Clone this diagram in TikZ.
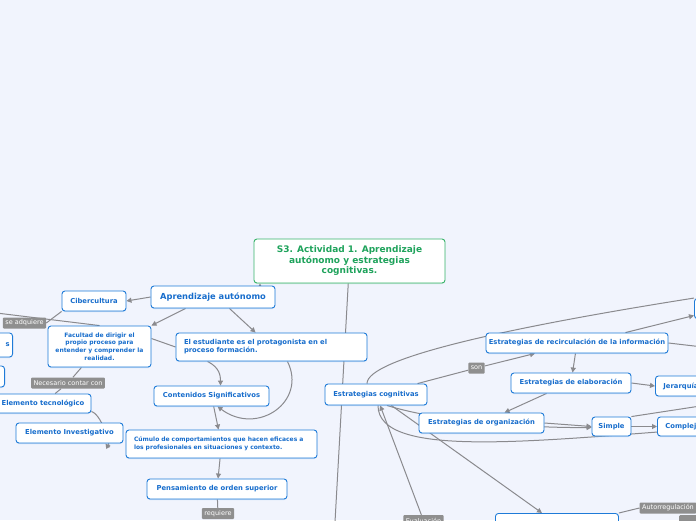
\documentclass[tikz,border=0pt]{standalone}
\usepackage{fontspec}
\setmainfont{DejaVu Sans}
\usepackage{tikz}
\usetikzlibrary{
  arrows.meta,
  positioning,
  backgrounds,
  shadows
}
\definecolor{mapblue}{HTML}{1F7BD8}
\definecolor{maptext}{HTML}{176DCC}
\definecolor{rootgreen}{HTML}{38B36A}
\definecolor{roottext}{HTML}{1FA35C}
\definecolor{linkgray}{HTML}{8A8A8E}
\definecolor{labelgray}{HTML}{8F8F8F}
\definecolor{canvas}{HTML}{F1F4FD}
\tikzset{
  mapbox/.style={
    rectangle, fill=white, rounded corners=3pt, line width=0.9pt,
    align=center, inner sep=2pt, minimum height=20pt
  },
  topic/.style={
    mapbox, draw=mapblue, text=maptext,
    font=\fontsize{6.8}{8}\selectfont\bfseries,
    drop shadow={shadow xshift=0pt, shadow yshift=-1pt, fill=mapblue!60, opacity=0.35}
  },
  smalltopic/.style={topic, font=\fontsize{6}{7.6}\selectfont\bfseries},
  roottopic/.style={
    mapbox, draw=rootgreen, text=roottext,
    font=\fontsize{9}{10.5}\selectfont\bfseries,
    drop shadow={shadow xshift=0pt, shadow yshift=-1pt, fill=rootgreen!60, opacity=0.35}
  },
  linklabel/.style={
    rectangle, fill=labelgray, text=white, rounded corners=1pt,
    font=\fontsize{6.5}{7}\selectfont, inner xsep=2.5pt, inner ysep=1pt,
    minimum height=11pt
  },
  conn/.style={draw=linkgray, line width=1pt},
  arrow/.style={conn, -{Triangle[length=5pt, width=5pt]}},
}
\begin{document}
\begin{tikzpicture}[x=1pt, y=-1pt]
\useasboundingbox (0,0) rectangle (696,520);
\clip (0,0) rectangle (696,520);

% Central topic and first branch
\node[roottopic, minimum width=191pt, minimum height=44pt] (title) at (349.5,261)
  {S3. Actividad 1. Aprendizaje\\autónomo y estrategias\\cognitivas.};
\node[topic, font=\fontsize{8.3}{9}\selectfont\bfseries, minimum width=124pt, minimum height=22pt] (aprend) at (213,297) {Aprendizaje autónomo};
\node[topic, minimum width=64pt] (ciber) at (94,301) {Cibercultura};
\node[smalltopic, minimum width=103pt, minimum height=41pt] (facultad) at (99.5,346.5)
  {Facultad de dirigir el\\propio proceso para\\entender y comprender la\\realidad.};
\node[topic, font=\fontsize{6.8}{8}\selectfont\bfseries, minimum width=191pt, minimum height=28pt, text width=175pt, align=left] (estudiante) at (271.5,347)
  {El estudiante es el protagonista en el\\proceso formación.};
\node[topic, minimum width=115pt] (contenidos) at (211.5,396) {Contenidos Significativos};
\node[smalltopic, minimum width=191pt, minimum height=28pt, text width=175pt, align=left] (cumulo) at (221.5,444)
  {Cúmulo de comportamientos que hacen eficaces a\\los profesionales en situaciones y contexto.};
\node[topic, minimum width=140pt] (pensam) at (217,489) {Pensamiento de orden superior};
\node[topic, minimum width=96pt, minimum height=19pt] (tecno) at (43,403.5) {Elemento tecnológico};
\node[topic, minimum width=107pt] (invest) at (69.5,433) {Elemento Investigativo};
\node[topic, anchor=east, minimum width=50pt, minimum height=24pt, text width=44pt, align=right] (leftA) at (13,345) {s};
\node[topic, anchor=east, minimum width=40pt, minimum height=21pt] (leftB) at (5,376.5) {};

% Second branch
\node[topic, minimum width=102pt, minimum height=21pt] (estcog) at (376,394.5) {Estrategias cognitivas};
\node[topic, minimum width=182pt] (recirc) at (577,343) {Estrategias de recirculación de la información};
\node[topic, minimum width=120pt] (elabor) at (571,383) {Estrategias de elaboración};
\node[topic, anchor=west, inner xsep=8pt] (jerarq) at (655,386) {Jerarquía};
\node[topic, minimum width=125pt] (organiz) at (481.5,423) {Estrategias de organización};
\node[topic, minimum width=39pt, minimum height=19pt] (simple) at (611.5,426.5) {Simple};
\node[topic, anchor=west, inner xsep=8pt, minimum height=19pt] (complejo) at (657,426.5) {Complejo};
\node[topic, anchor=west, minimum width=40pt] (topright) at (694,308.5) {};
\node[topic, anchor=north west, minimum width=123pt] (bottombox) at (495,513) {};

% Link labels
\node[linklabel] (seadq) at (24.5,323) {se adquiere};
\node[linklabel] (necesario) at (68,383) {Necesario contar con};
\node[linklabel] (son) at (476.5,368) {son};
\node[linklabel] (requiere) at (218,513.5) {requiere};
\node[linklabel] (autorreg) at (668,508) {Autorregulación};
\node[linklabel] (evalua) at (423.5,520.5) {Evaluación};
\node[linklabel, anchor=north west, minimum width=30pt] (lblcut) at (679,515) {};

\coordinate (offbottom) at (334,540);
\coordinate (offleft) at (-20,311);
\coordinate (offright1) at (720,349);
\coordinate (offright2) at (720,403);
\coordinate (offright3) at (712,428);

\begin{scope}[on background layer]
\fill[canvas] (0,0) rectangle (696,520);

\draw[conn] (title) -- (offbottom);
\draw[arrow] (aprend.north -| 260,0) -- (title.south -| 260,0);
\draw[arrow] (aprend.west) -- (ciber.east);
\draw[arrow] ([xshift=35pt]aprend.south west) -- (facultad.north east);
\draw[arrow] ([xshift=-46pt]aprend.south east) -- ([xshift=80pt]estudiante.north west);
\draw[conn] (ciber.south west) -- (seadq.east);
\draw[conn] (offleft) -- (facultad.north);
\draw[conn] ([yshift=8pt]facultad.east) -- (estudiante.west);
\draw[conn] (facultad) -- (necesario) -- (tecno);
\draw[arrow] ([yshift=2pt]tecno.south east) .. controls +(12,4) and +(6,8) .. ([xshift=-18pt]invest.south east);
\draw[arrow] ([xshift=32pt]estudiante.south west) .. controls +(12,6) and +(0,-10) .. ([xshift=9pt]contenidos.north);
\draw[arrow] ([xshift=-80pt]estudiante.south east) .. controls +(20,40) and +(40,30) .. ([xshift=6pt]contenidos.south);
\draw[arrow] (contenidos) -- (cumulo);
\draw[arrow] (cumulo) -- (pensam);
\draw[conn] (pensam) -- (requiere);

\draw[arrow] (estcog) -- (son) -- (recirc);
\draw[conn] ([xshift=-9pt]estcog.north) .. controls +(0,-25) and +(-190,30) .. (topright.north west);
\draw[arrow] ([xshift=-43pt]recirc.north east) -- ([yshift=-7pt]topright.west);
\draw[conn] (recirc.east) -- (offright1);
\draw[arrow] (recirc) -- (elabor);
\draw[arrow] (elabor.east) -- (jerarq.west);
\draw[arrow] ([xshift=36pt]elabor.south west) -- ([xshift=86pt]organiz.north west);
\draw[arrow] (organiz.east) -- (simple.west);
\draw[arrow] ([xshift=11pt]estcog.south) .. controls (440,422) and (530,428) .. ([yshift=-1pt]simple.west);
\draw[arrow] (simple.east) -- (complejo.west);
\draw[conn] (simple.north east) -- (offright2);
\draw[arrow] (estcog) -- ([xshift=47pt]bottombox.north west);
\draw[conn] ([xshift=2pt]estcog.south) .. controls +(0,55) and +(-172,12) .. (offright3);
\draw[arrow] (evalua) -- (estcog);
\draw[conn] (bottombox.north east) -- (autorreg.west);
\end{scope}

\end{tikzpicture}
\end{document}
